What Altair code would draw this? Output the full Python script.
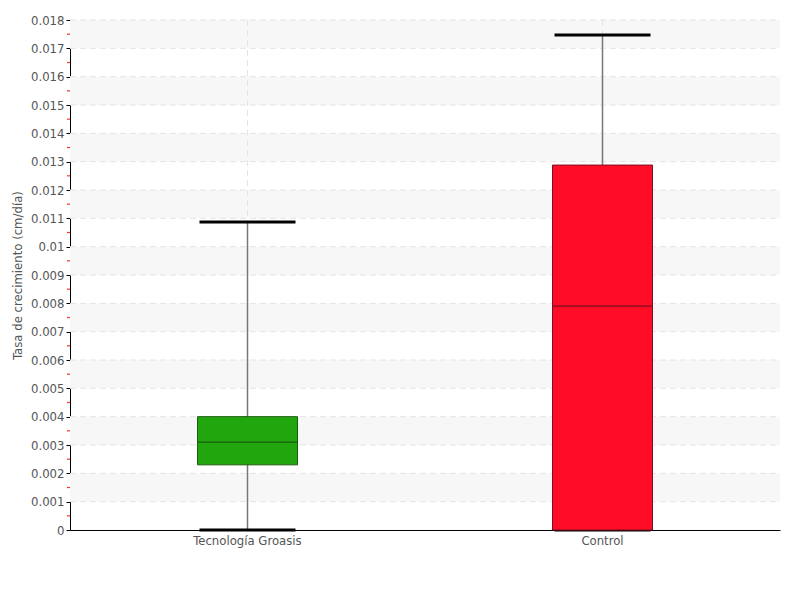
import altair as alt
import pandas as pd

groups = ["Tecnología Groasis", "Control"]
mins = [0.0, 0.0]
q1 = [0.0023, 0.0]
medians = [0.0031, 0.0079]
q3 = [0.0040, 0.01288]
maxs = [0.01087, 0.01747]
colors = ["#22a60d", "#ff0c27"]
strokes = ["#1a5c10", "#7a1020"]

band_lo = [0.001, 0.003, 0.005, 0.007, 0.009, 0.011, 0.013, 0.015, 0.017]
band_hi = [0.002, 0.004, 0.006, 0.008, 0.010, 0.012, 0.014, 0.016, 0.018]
minor_ticks = [0.0005 + 0.001 * i for i in range(18)]
major_ticks = [round(0.001 * i, 3) for i in range(19)]

FONT = "DejaVu Sans Condensed, Roboto Condensed, Roboto, sans-serif"

df = pd.DataFrame({"g": groups, "mn": mins, "q1": q1, "med": medians,
                   "q3": q3, "mx": maxs, "c": colors, "s": strokes})
bands = pd.DataFrame({"lo": band_lo, "hi": band_hi})
minor = pd.DataFrame({"v": minor_ticks})
grid = pd.DataFrame({"v": major_ticks[1:]})

yscale = alt.Scale(domain=[0, 0.018], nice=False, zero=True)
xenc = alt.X("g:N", sort=groups, title=None,
             scale=alt.Scale(paddingInner=0, paddingOuter=0),
             axis=alt.Axis(labelAngle=0, ticks=False, grid=False,
                           domainColor="black",
                           labelFont=FONT, labelFontSize=13, labelColor="#555",
                           labelPadding=4))
yaxis = alt.Axis(values=major_ticks, format="~g", title="Tasa de crecimiento (cm/día)",
                 labelOverlap=False,
                 titleFont=FONT, titleFontSize=13, titleColor="#555",
                 titleFontWeight="normal", titlePadding=6,
                 labelFont=FONT, labelFontSize=13, labelColor="#555",
                 domainColor="black", tickColor="black", tickSize=4,
                 grid=False)


def Y(field):
    return alt.Y(field, scale=yscale, axis=yaxis)


band_layer = alt.Chart(bands).mark_rect(color="#f7f7f7").encode(
    y=Y("lo:Q"), y2="hi:Q",
    x=alt.value(0), x2=alt.value(710),
)

hgrid = alt.Chart(grid).mark_rule(color="#e4e4e4", strokeDash=[6, 4], strokeWidth=1).encode(
    y=Y("v:Q"), x=alt.value(0), x2=alt.value(710))

vgrid = alt.Chart(df).mark_rule(color="#e4e4e4", strokeDash=[6, 4], strokeWidth=1).encode(
    x=xenc, y=alt.value(0), y2=alt.value(510))

minor_layer = alt.Chart(minor).mark_rule(color="#ff3030", strokeWidth=1.2).encode(
    y=Y("v:Q"), x=alt.value(-3), x2=alt.value(0),
)

whisker = alt.Chart(df).mark_rule(color="#777", strokeWidth=1.5).encode(
    x=alt.X("g:N", sort=groups), y=Y("mn:Q"), y2="mx:Q")

box = alt.Chart(df).mark_bar(size=100, strokeWidth=1, opacity=1).encode(
    x=alt.X("g:N", sort=groups), y=Y("q1:Q"), y2="q3:Q",
    color=alt.Color("c:N", scale=None), stroke=alt.Stroke("s:N", scale=None))

med = alt.Chart(df).mark_tick(size=100, thickness=1.2, orient="horizontal", opacity=1).encode(
    x=alt.X("g:N", sort=groups), y=Y("med:Q"),
    color=alt.Color("s:N", scale=None))

cap_hi = alt.Chart(df).mark_tick(size=96, thickness=3, color="black", opacity=1,
                                 orient="horizontal").encode(
    x=alt.X("g:N", sort=groups), y=Y("mx:Q"))
cap_lo = alt.Chart(df).mark_tick(size=96, thickness=3, color="black", opacity=1,
                                 orient="horizontal").encode(
    x=alt.X("g:N", sort=groups), y=Y("mn:Q"))

chart = alt.layer(band_layer, hgrid, vgrid, whisker, cap_lo, box, med, cap_hi,
                  minor_layer).properties(
    width=710, height=510,
    autosize=alt.AutoSizeParams(type="none"),
    padding={"left": 62, "top": 12, "right": 10, "bottom": 60},
).configure_view(stroke=None).configure_axis(labelOverlap=False)

chart.save("out.html", embed_options={"renderer": "svg", "actions": False})
